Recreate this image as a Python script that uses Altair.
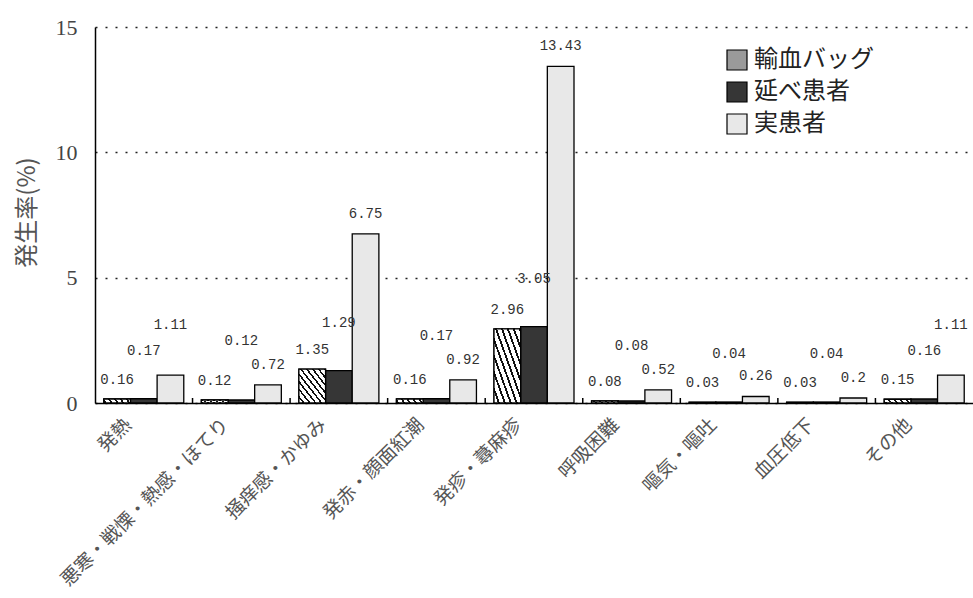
import altair as alt
import pandas as pd

categories = ["発熱", "悪寒・戦慄・熱感・ほてり", "掻痒感・かゆみ", "発赤・顔面紅潮",
              "発疹・蕁麻疹", "呼吸困難", "嘔気・嘔吐", "血圧低下", "その他"]
series = ["輸血バッグ", "延べ患者", "実患者"]
bag = [0.16, 0.12, 1.35, 0.16, 2.96, 0.08, 0.03, 0.03, 0.15]
nobe = [0.17, 0.12, 1.29, 0.17, 3.05, 0.08, 0.04, 0.04, 0.16]
jitsu = [1.11, 0.72, 6.75, 0.92, 13.43, 0.52, 0.26, 0.2, 1.11]
y_ticks = [0, 5, 10, 15]
y_title = "発生率(%)"

PLOT_W, PLOT_H, Y_MAX = 878, 376, 15
U = Y_MAX / PLOT_H  # data units per pixel

# value-label placement: pixel gaps above each bar, with a simple collision rule
rows = []
for i, c in enumerate(categories):
    v1, v2, v3 = bag[i], nobe[i], jitsu[i]
    p1 = v1 / U + 19
    p2 = v2 / U + 48
    p3 = v3 / U + 20
    if abs(p3 - p2) < 17:
        if v3 >= 1:
            p3 = p2 + 26
        else:
            p2 = p3 + 24
    for s, v, p in zip(series, (v1, v2, v3), (p1, p2, p3)):
        rows.append({"category": c, "series": s, "value": v,
                     "label": f"{v:g}", "label_y": p * U})
df = pd.DataFrame(rows)
sep_df = pd.DataFrame({"category": categories[1:]})

# diagonal hatch made of a striped linear gradient
n = 9
stops = []
for i in range(n):
    a = i / n
    b = (i + 0.33) / n
    c = (i + 1) / n
    stops += [{"offset": a, "color": "#111111"}, {"offset": b, "color": "#111111"},
              {"offset": b, "color": "#ffffff"}, {"offset": c, "color": "#ffffff"}]
hatch = {"gradient": "linear", "x1": 1, "y1": 0, "x2": 0, "y2": 1, "stops": stops}

x_scale = alt.Scale(domain=categories, paddingInner=0.18, paddingOuter=0.09)
x_enc = alt.X("category:N", sort=categories, title=None, scale=x_scale)
xo_enc = alt.XOffset("series:N", sort=series, scale=alt.Scale(domain=series))
y_scale = alt.Scale(domain=[0, Y_MAX], nice=False)
y_axis = alt.Axis(values=y_ticks)
y_enc = alt.Y("value:Q", title=y_title, scale=y_scale, axis=y_axis)

base = alt.Chart(df)

bars = base.mark_bar(stroke="black", strokeWidth=1.3).encode(
    x=x_enc, xOffset=xo_enc, y=y_enc,
    color=alt.Color("series:N", sort=series,
                    scale=alt.Scale(domain=series, range=["#9a9a9a", "#363636", "#e8e8e8"]),
                    legend=alt.Legend(orient="none", legendX=630, legendY=21, title=None,
                                      symbolType="square", symbolSize=400,
                                      symbolStrokeColor="black", symbolStrokeWidth=1.2,
                                      labelFont="Noto Sans CJK JP", labelFontSize=24,
                                      labelColor="#222222", rowPadding=6, padding=0,
                                      labelOffset=5))
)

hatch_bars = base.transform_filter(alt.datum.series == series[0]).mark_bar(
    fill=hatch, stroke="black", strokeWidth=1.3
).encode(x=x_enc, xOffset=xo_enc, y=y_enc)

labels = base.mark_text(
    font="Liberation Mono", fontSize=14, color="#333333", baseline="middle"
).encode(x=x_enc, xOffset=xo_enc,
         y=alt.Y("label_y:Q", scale=y_scale, axis=y_axis, title=y_title), text="label:N")

# small separators between category groups on the baseline
seps = alt.Chart(sep_df).mark_rule(stroke="black", strokeWidth=1.5, xOffset=-8.8).encode(
    x=alt.X("category:N", sort=categories, scale=x_scale, bandPosition=0, title=None),
    y=alt.value(PLOT_H), y2=alt.value(PLOT_H - 5)
)

chart = alt.layer(bars, hatch_bars, labels, seps).properties(
    width=PLOT_W, height=PLOT_H,
    padding={"left": 95, "top": 27, "right": 0, "bottom": 195},
    autosize=alt.AutoSizeParams(type="none"),
).configure_view(
    stroke=None
).configure_axisX(
    labelAngle=315, labelFont="Noto Sans CJK JP", labelFontSize=19,
    labelColor="#555555", labelPadding=12, labelOffset=-22,
    labelLimit=0, labelOverlap=False, ticks=False, grid=False,
    domainColor="black", domainWidth=1.5
).configure_axisY(
    ticks=False, grid=True, gridDash=[2, 8],
    gridColor="#222222", gridWidth=1.5, domainColor="black",
    domainWidth=1.5, labelFont="Liberation Serif", labelFontSize=22,
    labelColor="#444444", labelPadding=18,
    titleFont="Noto Sans CJK JP", titleFontSize=24,
    titleFontWeight="normal", titleColor="#555555",
    titleX=-68, titleY=185, titleAngle=270,
    titleAlign="center", titleBaseline="middle"
)

chart.save("out.html", embed_options={"renderer": "svg", "actions": False})
